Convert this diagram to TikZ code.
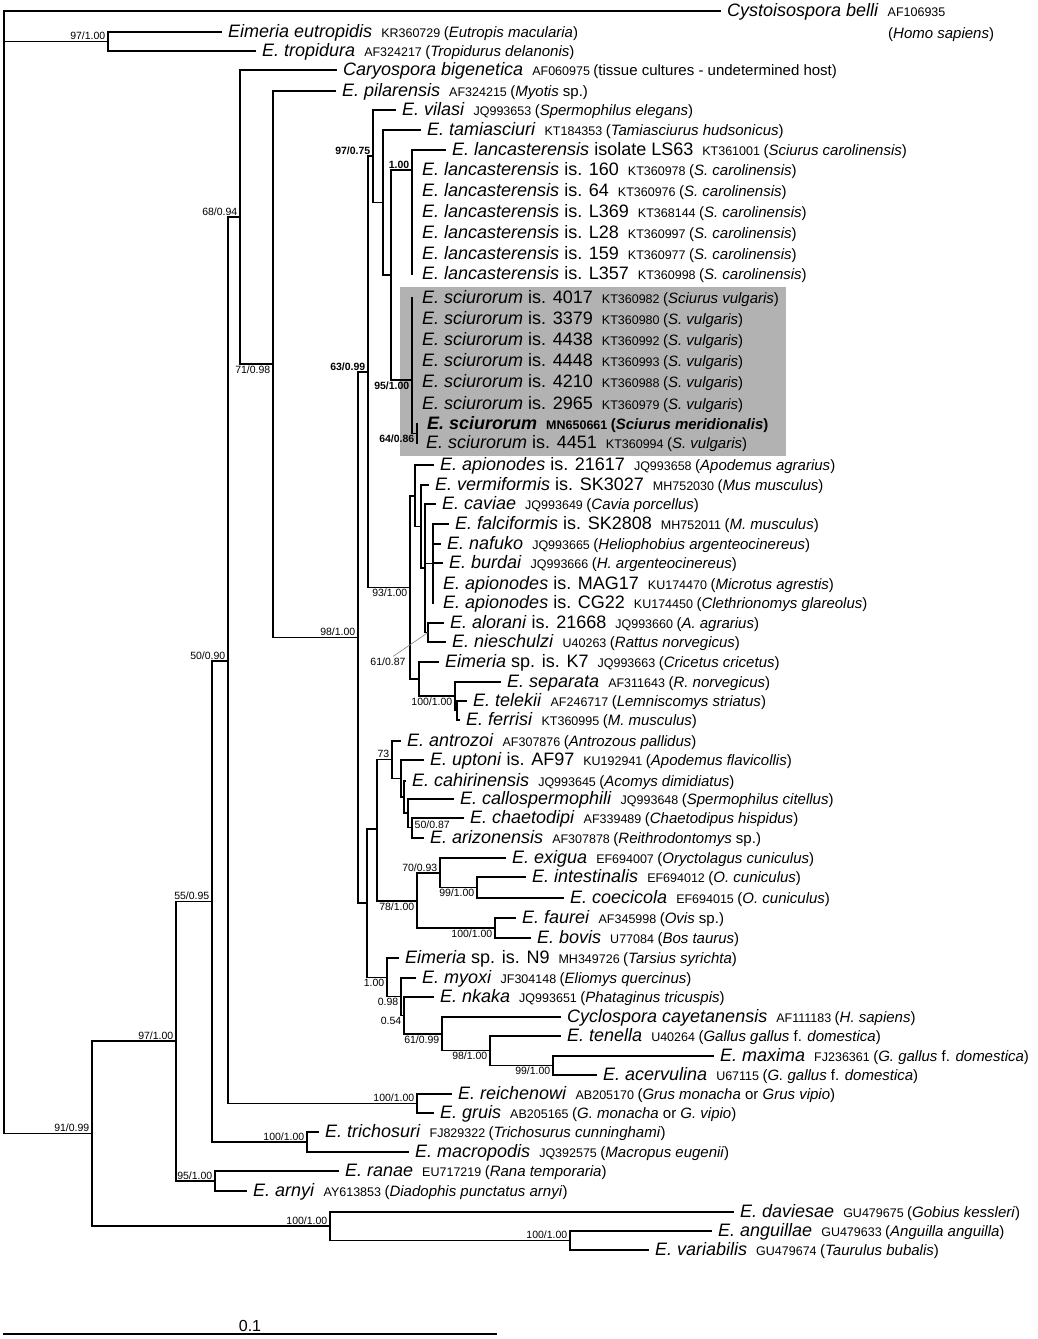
\documentclass[tikz,border=0pt]{standalone}
\usepackage{fontspec}
\setmainfont{Liberation Sans}
\usepackage{tikz}
\usetikzlibrary{calc}
\newcommand{\taxon}[1]{{\fontsize{18}{20}\selectfont#1}}
\newcommand{\accn}[1]{\hspace{9pt}{\fontsize{12.5}{14}\selectfont#1}}
\newcommand{\hostn}[1]{\hspace{3.5pt}{\fontsize{15}{17}\selectfont(#1)}}
\tikzset{
    br/.style={line width=1.7pt, line cap=rect}, % branches
    leaf/.style={anchor=west, inner xsep=7pt, inner ysep=0pt, text height=10pt, text depth=0pt}, % tip labels
    supp/.style={font=\fontsize{10.5}{12}\selectfont, inner xsep=2.5pt, inner ysep=1.5pt}, % support values
    suppbold/.style={supp, font=\fontsize{10.5}{12}\selectfont\bfseries}
}

\begin{document}
\begin{tikzpicture}[x=1pt, y=-1pt]
    \useasboundingbox (0,0) rectangle (1037,1339);
    \fill[black!30] (400,287) rectangle (786,456);

    % internal nodes
    \coordinate (root) at (4,572);
    \coordinate[label={[supp]above left:97/1.00}] (nTrop) at (108,41.5);
    \coordinate[label={[supp]above left:91/0.99}] (n92) at (92,1133.5);
    \coordinate[label={[supp]above left:97/1.00}] (n176) at (176,1041);
    \coordinate[label={[supp]above left:55/0.95}] (n212) at (212,901.5);
    \coordinate[label={[supp]above left:50/0.90}] (n228) at (228,661);
    \coordinate[label={[supp]above left:68/0.94}] (n240) at (240,217);
    \coordinate[label={[supp]below left:71/0.98}] (n273) at (273,364);
    \coordinate[label={[supp]above left:98/1.00}] (n358) at (358,637.5);
    \coordinate[label={[suppbold]above left:63/0.99}] (n368) at (368,372);
    \coordinate[label={[suppbold]above left:97/0.75}] (n373) at (373,156);
    \coordinate (n383) at (383,202.5);
    \coordinate (n391) at (391,275);
    \coordinate[label={[suppbold]above left:1.00}] (nLan) at (412,170);
    \coordinate[label={[suppbold]below left:95/1.00}] (nSci) at (412,380);
    \coordinate[label={[suppbold]below left:64/0.86}] (nMN) at (417,433.5);
    \coordinate[label={[supp]below left:93/1.00}] (n93) at (410,587.5);
    \coordinate (nA) at (415,496);
    \coordinate (nA2) at (421,526.5);
    \coordinate (nA3) at (425,568);
    \coordinate (nF) at (433,563.5);
    \coordinate (nAN) at (428,632.5);
    \coordinate (nK7) at (419,679);
    \coordinate[label={[supp]below left:100/1.00}] (n455) at (455,696);
    \coordinate (n457) at (457,710.5);
    \coordinate (n367) at (367,903);
    \coordinate (n377) at (377,829);
    \coordinate[label={[supp]above left:73}] (n392) at (392,759.5);
    \coordinate (n403) at (401,778.5);
    \coordinate (n405) at (404,797);
    \coordinate (n407) at (408,813);
    \coordinate[label={[supp, yshift=2.5pt]right:50/0.87}] (n412) at (412,827.5);
    \coordinate[label={[supp]below left:78/1.00}] (n417) at (417,901);
    \coordinate[label={[supp]above left:70/0.93}] (n440) at (440,873);
    \coordinate[label={[supp]below left:99/1.00}] (n477) at (477,887.5);
    \coordinate[label={[supp]below left:100/1.00}] (n495) at (495,928);
    \coordinate[label={[supp]below left:1.00}] (n387) at (387,977.5);
    \coordinate[label={[supp]below left:0.98}] (n401) at (401,996.5);
    \coordinate[label={[supp]below left:0.54}] (n404) at (404,1015.5);
    \coordinate[label={[supp]below left:61/0.99}] (n442) at (442,1034);
    \coordinate[label={[supp]below left:98/1.00}] (n490) at (490,1050.5);
    \coordinate[label={[supp]below left:99/1.00}] (n553) at (553,1065.5);
    \coordinate[label={[supp]above left:100/1.00}] (nGru) at (417,1103.5);
    \coordinate[label={[supp]above left:100/1.00}] (n307) at (307,1142);
    \coordinate[label={[supp]above left:95/1.00}] (n215) at (215,1181);
    \coordinate[label={[supp]above left:100/1.00}] (n330) at (330,1226);
    \coordinate[label={[supp]above left:100/1.00}] (n570) at (570,1240.5);

    % tips
    \node[leaf] (cys) at (720,11) {\taxon{\textit{Cystoisospora belli}}\accn{AF106935}};
    \node[anchor=base west, inner sep=0pt] (cysh) at (888,38) {\fontsize{15}{17}\selectfont(\textit{Homo sapiens})};
    \node[leaf] (eut) at (221,32) {\taxon{\textit{Eimeria eutropidis}}\accn{KR360729}\hostn{\textit{Eutropis macularia}}};
    \node[leaf] (trop) at (255,51) {\taxon{\textit{E. tropidura}}\accn{AF324217}\hostn{\textit{Tropidurus delanonis}}};
    \node[leaf] (cary) at (336,70) {\taxon{\textit{Caryospora bigenetica}}\accn{AF060975}\hostn{tissue cultures - undetermined host}};
    \node[leaf] (pil) at (335,91) {\taxon{\textit{E. pilarensis}}\accn{AF324215}\hostn{\textit{Myotis} sp.}};
    \node[leaf] (vil) at (395,110) {\taxon{\textit{E. vilasi}}\accn{JQ993653}\hostn{\textit{Spermophilus elegans}}};
    \node[leaf] (tam) at (420,130) {\taxon{\textit{E. tamiasciuri}}\accn{KT184353}\hostn{\textit{Tamiasciurus hudsonicus}}};
    \node[leaf] (lanLS) at (445,150) {\taxon{\textit{E. lancasterensis} isolate LS63}\accn{KT361001}\hostn{\textit{Sciurus carolinensis}}};
    \node[leaf] (lan160) at (415,170) {\taxon{\textit{E. lancasterensis} is. 160}\accn{KT360978}\hostn{\textit{S. carolinensis}}};
    \node[leaf] (lan64) at (415,191) {\taxon{\textit{E. lancasterensis} is. 64}\accn{KT360976}\hostn{\textit{S. carolinensis}}};
    \node[leaf] (lanL369) at (415,212) {\taxon{\textit{E. lancasterensis} is. L369}\accn{KT368144}\hostn{\textit{S. carolinensis}}};
    \node[leaf] (lanL28) at (415,233) {\taxon{\textit{E. lancasterensis} is. L28}\accn{KT360997}\hostn{\textit{S. carolinensis}}};
    \node[leaf] (lan159) at (415,254) {\taxon{\textit{E. lancasterensis} is. 159}\accn{KT360977}\hostn{\textit{S. carolinensis}}};
    \node[leaf] (lanL357) at (415,274) {\taxon{\textit{E. lancasterensis} is. L357}\accn{KT360998}\hostn{\textit{S. carolinensis}}};
    \node[leaf] (sci4017) at (415,298) {\taxon{\textit{E. sciurorum} is. 4017}\accn{KT360982}\hostn{\textit{Sciurus vulgaris}}};
    \node[leaf] (sci3379) at (415,319) {\taxon{\textit{E. sciurorum} is. 3379}\accn{KT360980}\hostn{\textit{S. vulgaris}}};
    \node[leaf] (sci4438) at (415,340) {\taxon{\textit{E. sciurorum} is. 4438}\accn{KT360992}\hostn{\textit{S. vulgaris}}};
    \node[leaf] (sci4448) at (415,361) {\taxon{\textit{E. sciurorum} is. 4448}\accn{KT360993}\hostn{\textit{S. vulgaris}}};
    \node[leaf] (sci4210) at (415,382) {\taxon{\textit{E. sciurorum} is. 4210}\accn{KT360988}\hostn{\textit{S. vulgaris}}};
    \node[leaf] (sci2965) at (415,404) {\taxon{\textit{E. sciurorum} is. 2965}\accn{KT360979}\hostn{\textit{S. vulgaris}}};
    \node[leaf] (sciMN) at (420,424) {\bfseries\taxon{\textit{E. sciurorum}}\accn{MN650661}\hostn{\textit{Sciurus meridionalis}}};
    \node[leaf] (sci4451) at (419,443) {\taxon{\textit{E. sciurorum} is. 4451}\accn{KT360994}\hostn{\textit{S. vulgaris}}};
    \node[leaf] (api21617) at (433,465) {\taxon{\textit{E. apionodes} is. 21617}\accn{JQ993658}\hostn{\textit{Apodemus agrarius}}};
    \node[leaf] (verm) at (428,485) {\taxon{\textit{E. vermiformis} is. SK3027}\accn{MH752030}\hostn{\textit{Mus musculus}}};
    \node[leaf] (cav) at (435,504) {\taxon{\textit{E. caviae}}\accn{JQ993649}\hostn{\textit{Cavia porcellus}}};
    \node[leaf] (falc) at (448,524) {\taxon{\textit{E. falciformis} is. SK2808}\accn{MH752011}\hostn{\textit{M. musculus}}};
    \node[leaf] (naf) at (440,544) {\taxon{\textit{E. nafuko}}\accn{JQ993665}\hostn{\textit{Heliophobius argenteocinereus}}};
    \node[leaf] (burd) at (442,563) {\taxon{\textit{E. burdai}}\accn{JQ993666}\hostn{\textit{H. argenteocinereus}}};
    \node[leaf] (apiMAG) at (436,584) {\taxon{\textit{E. apionodes} is. MAG17}\accn{KU174470}\hostn{\textit{Microtus agrestis}}};
    \node[leaf] (apiCG) at (436,603) {\taxon{\textit{E. apionodes} is. CG22}\accn{KU174450}\hostn{\textit{Clethrionomys glareolus}}};
    \node[leaf] (alor) at (443,623) {\taxon{\textit{E. alorani} is. 21668}\accn{JQ993660}\hostn{\textit{A. agrarius}}};
    \node[leaf] (nies) at (445,642) {\taxon{\textit{E. nieschulzi}}\accn{U40263}\hostn{\textit{Rattus norvegicus}}};
    \node[leaf] (spK7) at (438,662) {\taxon{\textit{Eimeria} sp. is. K7}\accn{JQ993663}\hostn{\textit{Cricetus cricetus}}};
    \node[leaf] (sep) at (500,682) {\taxon{\textit{E. separata}}\accn{AF311643}\hostn{\textit{R. norvegicus}}};
    \node[leaf] (tel) at (466,701) {\taxon{\textit{E. telekii}}\accn{AF246717}\hostn{\textit{Lemniscomys striatus}}};
    \node[leaf] (fer) at (459,720) {\taxon{\textit{E. ferrisi}}\accn{KT360995}\hostn{\textit{M. musculus}}};
    \node[leaf] (antr) at (400,741) {\taxon{\textit{E. antrozoi}}\accn{AF307876}\hostn{\textit{Antrozous pallidus}}};
    \node[leaf] (upt) at (423,760) {\taxon{\textit{E. uptoni} is. AF97}\accn{KU192941}\hostn{\textit{Apodemus flavicollis}}};
    \node[leaf] (cah) at (405,781) {\taxon{\textit{E. cahirinensis}}\accn{JQ993645}\hostn{\textit{Acomys dimidiatus}}};
    \node[leaf] (call) at (453,799) {\taxon{\textit{E. callospermophili}}\accn{JQ993648}\hostn{\textit{Spermophilus citellus}}};
    \node[leaf] (chae) at (463,818) {\taxon{\textit{E. chaetodipi}}\accn{AF339489}\hostn{\textit{Chaetodipus hispidus}}};
    \node[leaf] (ariz) at (423,838) {\taxon{\textit{E. arizonensis}}\accn{AF307878}\hostn{\textit{Reithrodontomys} sp.}};
    \node[leaf] (exi) at (505,858) {\taxon{\textit{E. exigua}}\accn{EF694007}\hostn{\textit{Oryctolagus cuniculus}}};
    \node[leaf] (inte) at (525,877) {\taxon{\textit{E. intestinalis}}\accn{EF694012}\hostn{\textit{O. cuniculus}}};
    \node[leaf] (coec) at (563,898) {\taxon{\textit{E. coecicola}}\accn{EF694015}\hostn{\textit{O. cuniculus}}};
    \node[leaf] (faur) at (515,918) {\taxon{\textit{E. faurei}}\accn{AF345998}\hostn{\textit{Ovis} sp.}};
    \node[leaf] (bov) at (530,938) {\taxon{\textit{E. bovis}}\accn{U77084}\hostn{\textit{Bos taurus}}};
    \node[leaf] (spN9) at (398,958) {\taxon{\textit{Eimeria} sp. is. N9}\accn{MH349726}\hostn{\textit{Tarsius syrichta}}};
    \node[leaf] (myox) at (415,978) {\taxon{\textit{E. myoxi}}\accn{JF304148}\hostn{\textit{Eliomys quercinus}}};
    \node[leaf] (nkak) at (433,997) {\taxon{\textit{E. nkaka}}\accn{JQ993651}\hostn{\textit{Phataginus tricuspis}}};
    \node[leaf] (cyc) at (560,1017) {\taxon{\textit{Cyclospora cayetanensis}}\accn{AF111183}\hostn{\textit{H. sapiens}}};
    \node[leaf] (ten) at (560,1036) {\taxon{\textit{E. tenella}}\accn{U40264}\hostn{\textit{Gallus gallus} f. \textit{domestica}}};
    \node[leaf] (max) at (713,1056) {\taxon{\textit{E. maxima}}\accn{FJ236361}\hostn{\textit{G. gallus} f. \textit{domestica}}};
    \node[leaf] (acer) at (596,1075) {\taxon{\textit{E. acervulina}}\accn{U67115}\hostn{\textit{G. gallus} f. \textit{domestica}}};
    \node[leaf] (reic) at (451,1094) {\taxon{\textit{E. reichenowi}}\accn{AB205170}\hostn{\textit{Grus monacha} or \textit{Grus vipio}}};
    \node[leaf] (grui) at (433,1113) {\taxon{\textit{E. gruis}}\accn{AB205165}\hostn{\textit{G. monacha} or \textit{G. vipio}}};
    \node[leaf] (tric) at (318,1132) {\taxon{\textit{E. trichosuri}}\accn{FJ829322}\hostn{\textit{Trichosurus cunninghami}}};
    \node[leaf] (macr) at (408,1152) {\taxon{\textit{E. macropodis}}\accn{JQ392575}\hostn{\textit{Macropus eugenii}}};
    \node[leaf] (ran) at (338,1171) {\taxon{\textit{E. ranae}}\accn{EU717219}\hostn{\textit{Rana temporaria}}};
    \node[leaf] (arny) at (246,1191) {\taxon{\textit{E. arnyi}}\accn{AY613853}\hostn{\textit{Diadophis punctatus arnyi}}};
    \node[leaf] (dav) at (733,1212) {\taxon{\textit{E. daviesae}}\accn{GU479675}\hostn{\textit{Gobius kessleri}}};
    \node[leaf] (ang) at (711,1231) {\taxon{\textit{E. anguillae}}\accn{GU479633}\hostn{\textit{Anguilla anguilla}}};
    \node[leaf] (var) at (648,1250) {\taxon{\textit{E. variabilis}}\accn{GU479674}\hostn{\textit{Taurulus bubalis}}};

    % branches
    \foreach \p/\c in {root/cys, root/nTrop, root/n92, nTrop/eut, nTrop/trop,
        n92/n176, n92/n330, n176/n212, n176/n215, n212/n228, n212/n307,
        n228/n240, n228/nGru, n240/cary, n240/n273, n273/pil, n273/n358,
        n358/n368, n358/n367, n368/n373, n368/n93, n373/vil, n373/n383,
        n383/tam, n383/n391, n391/nLan, n391/nSci, nLan/lanLS, nSci/nMN,
        n93/nA, n93/nK7, nA/api21617, nA/nA2, nA2/verm, nA2/nA3, nA3/cav, nA3/nF, nA3/nAN,
        nF/falc, nF/naf, nF/burd, nAN/alor, nAN/nies, nK7/spK7, nK7/n455, n455/sep, n455/n457,
        n457/tel, n457/fer, n367/n377, n367/n387, n377/n392, n377/n417, n392/antr, n392/n403,
        n403/upt, n403/n405, n405/cah, n405/n407, n407/call, n407/n412, n412/chae, n412/ariz,
        n417/n440, n417/n495, n440/exi, n440/n477, n477/inte, n477/coec, n495/faur, n495/bov,
        n387/spN9, n387/n401, n401/myox, n401/n404, n404/nkak, n404/n442, n442/cyc, n442/n490,
        n490/ten, n490/n553, n553/max, n553/acer, nGru/reic, nGru/grui, n307/tric, n307/macr,
        n215/ran, n215/arny, n330/dav, n330/n570, n570/ang, n570/var}
        {\draw[br] (\p) |- (\c);}
    % polytomies without tip branches
    \draw[br] (nLan |- lanLS) -- (nLan |- lanL357);
    \draw[br] (nSci |- sci4017) -- (nSci |- nMN);
    \draw[br] (nMN |- sciMN) -- (nMN |- sci4451);
    \draw[br] (nF |- falc) -- (nF |- apiCG);

    % leader for the alorani node
    \node[supp] (sAN) at (388,662) {61/0.87};
    \draw[gray, line width=0.6pt] ([xshift=5pt]sAN.north) -- (nAN);

    % scale bar
    \draw[line width=1.7pt] (3,1334) coordinate (sb0) -- (497,1334) coordinate (sb1);
    \node[anchor=south, inner sep=2pt, font=\fontsize{16}{18}\selectfont] (sbl) at ($(sb0)!0.5!(sb1)$) {0.1};
\end{tikzpicture}
\end{document}
